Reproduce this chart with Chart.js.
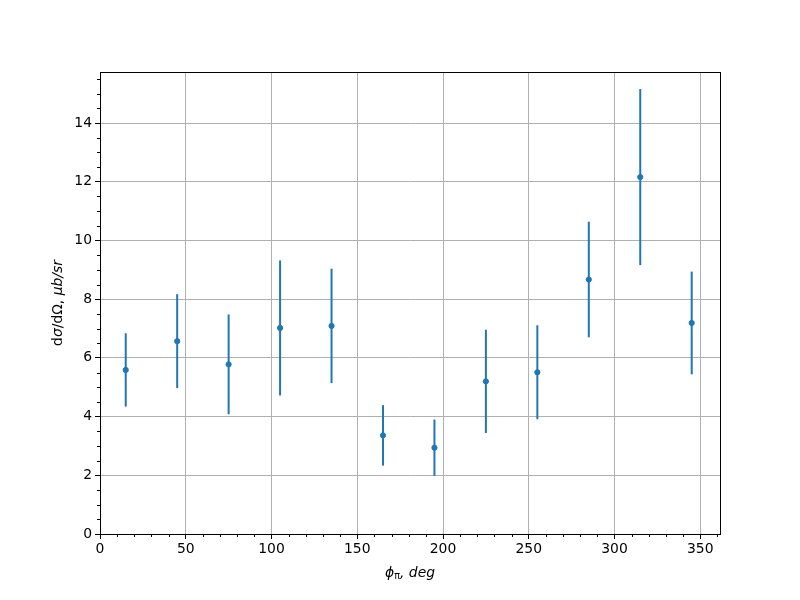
<!DOCTYPE html>
<html>
<head>
<meta charset="utf-8">
<script src="https://cdn.jsdelivr.net/npm/chart.js@4"></script>
<style>
    html, body { margin: 0; padding: 0; background: #fff; }
    #wrap { width: 800px; height: 600px; }
</style>
</head>
<body>
<div id="wrap"><canvas id="chart" width="800" height="600"></canvas></div>
<script>
// data
const phi = [15, 45, 75, 105, 135, 165, 195, 225, 255, 285, 315, 345];
const xsec = [5.59, 6.57, 5.78, 7.02, 7.09, 3.36, 2.94, 5.20, 5.51, 8.67, 12.16, 7.19];
const xsecErr = [1.25, 1.60, 1.70, 2.30, 1.95, 1.03, 0.96, 1.76, 1.60, 1.97, 3.00, 1.75];
const xTicks = [0, 50, 100, 150, 200, 250, 300, 350];
const yTicks = [0, 2, 4, 6, 8, 10, 12, 14];

// axis labels, split in pieces so the math parts can be italic / subscript
const xLabel = [
    { t: 'ϕ', it: true }, { t: 'π', it: false, sub: true }, { t: ', ', it: true }, { t: 'deg', it: true }
];
const yLabel = [
    { t: 'd', it: false }, { t: 'σ', it: true }, { t: '/dΩ, ', it: false }, { t: 'μb/sr', it: true }
];

const blue = '#1f77b4';
const fs = 13.9;
const tickFont = { family: 'DejaVu Sans', size: fs };

function pieceFont(p) {
    const size = p.sub ? fs * 0.7 : fs;
    return (p.it ? 'italic ' : '') + size + 'px "DejaVu Sans"';
}

// draws the pieces centred on (0,0) of the current transform
function drawLabel(ctx, pieces) {
    let total = 0;
    pieces.forEach(p => { ctx.font = pieceFont(p); total += ctx.measureText(p.t).width; });
    let x = -total / 2;
    ctx.textBaseline = 'alphabetic';
    ctx.textAlign = 'left';
    pieces.forEach(p => {
        ctx.font = pieceFont(p);
        ctx.fillText(p.t, x, p.sub ? 5 + 2 : 5);
        x += ctx.measureText(p.t).width;
    });
}

// error bars, frame, minor ticks and axis labels
const extras = {
    id: 'extras',
    beforeDatasetsDraw(chart) {
        const ctx = chart.ctx;
        const xs = chart.scales.x, ys = chart.scales.y;
        ctx.save();
        ctx.strokeStyle = blue;
        ctx.lineWidth = 2;
        phi.forEach((p, i) => {
            const px = xs.getPixelForValue(p);
            ctx.beginPath();
            ctx.moveTo(px, ys.getPixelForValue(xsec[i] - xsecErr[i]));
            ctx.lineTo(px, ys.getPixelForValue(xsec[i] + xsecErr[i]));
            ctx.stroke();
        });
        ctx.restore();
    },
    afterDraw(chart) {
        const ctx = chart.ctx;
        const a = chart.chartArea;
        const xs = chart.scales.x, ys = chart.scales.y;
        ctx.save();
        ctx.strokeStyle = '#000';
        ctx.lineWidth = 1;
        // minor ticks
        ctx.beginPath();
        for (let v = 10; v < xs.max; v += 10) {
            if (v % 50 === 0) continue;
            const px = Math.round(xs.getPixelForValue(v)) + 0.5;
            ctx.moveTo(px, a.bottom);
            ctx.lineTo(px, a.bottom + 3);
        }
        for (let v = 0.5; v < ys.max; v += 0.5) {
            if (v % 2 === 0) continue;
            const py = Math.round(ys.getPixelForValue(v)) + 0.5;
            ctx.moveTo(a.left, py);
            ctx.lineTo(a.left - 3, py);
        }
        ctx.stroke();
        ctx.strokeRect(Math.round(a.left) + 0.5, Math.round(a.top) + 0.5,
            Math.round(a.right - a.left), Math.round(a.bottom - a.top));

        ctx.fillStyle = '#000';
        ctx.save();
        ctx.translate((a.left + a.right) / 2, 572);
        drawLabel(ctx, xLabel);
        ctx.restore();
        ctx.save();
        ctx.translate(57, (a.top + a.bottom) / 2);
        ctx.rotate(-Math.PI / 2);
        drawLabel(ctx, yLabel);
        ctx.restore();
        ctx.restore();
    }
};

new Chart(document.getElementById('chart'), {
    type: 'scatter',
    data: {
        datasets: [{
            data: phi.map((p, i) => ({ x: p, y: xsec[i] })),
            backgroundColor: blue,
            borderColor: blue,
            pointRadius: 2.6,
            pointHoverRadius: 2.6
        }]
    },
    options: {
        responsive: false,
        animation: false,
        events: [],
        layout: { padding: { left: 0, top: 72, right: 80, bottom: 0 } },
        plugins: { legend: { display: false }, tooltip: { enabled: false } },
        scales: {
            x: {
                type: 'linear',
                min: 0,
                max: 361.5,
                afterBuildTicks: s => { s.ticks = xTicks.map(v => ({ value: v })); },
                afterFit: s => { s.height = 66; },
                grid: { color: '#b0b0b0', lineWidth: 1, tickColor: '#000', tickLength: 5 },
                border: { color: '#000', width: 1 },
                ticks: { color: '#000', font: tickFont, padding: 2, maxRotation: 0 }
            },
            y: {
                type: 'linear',
                min: 0,
                max: 15.74,
                afterBuildTicks: s => { s.ticks = yTicks.map(v => ({ value: v })); },
                afterFit: s => { s.width = 100; },
                grid: { color: '#b0b0b0', lineWidth: 1, tickColor: '#000', tickLength: 5 },
                border: { color: '#000', width: 1 },
                ticks: { color: '#000', font: tickFont, padding: 3 }
            }
        }
    },
    plugins: [extras]
});
</script>
</body>
</html>
